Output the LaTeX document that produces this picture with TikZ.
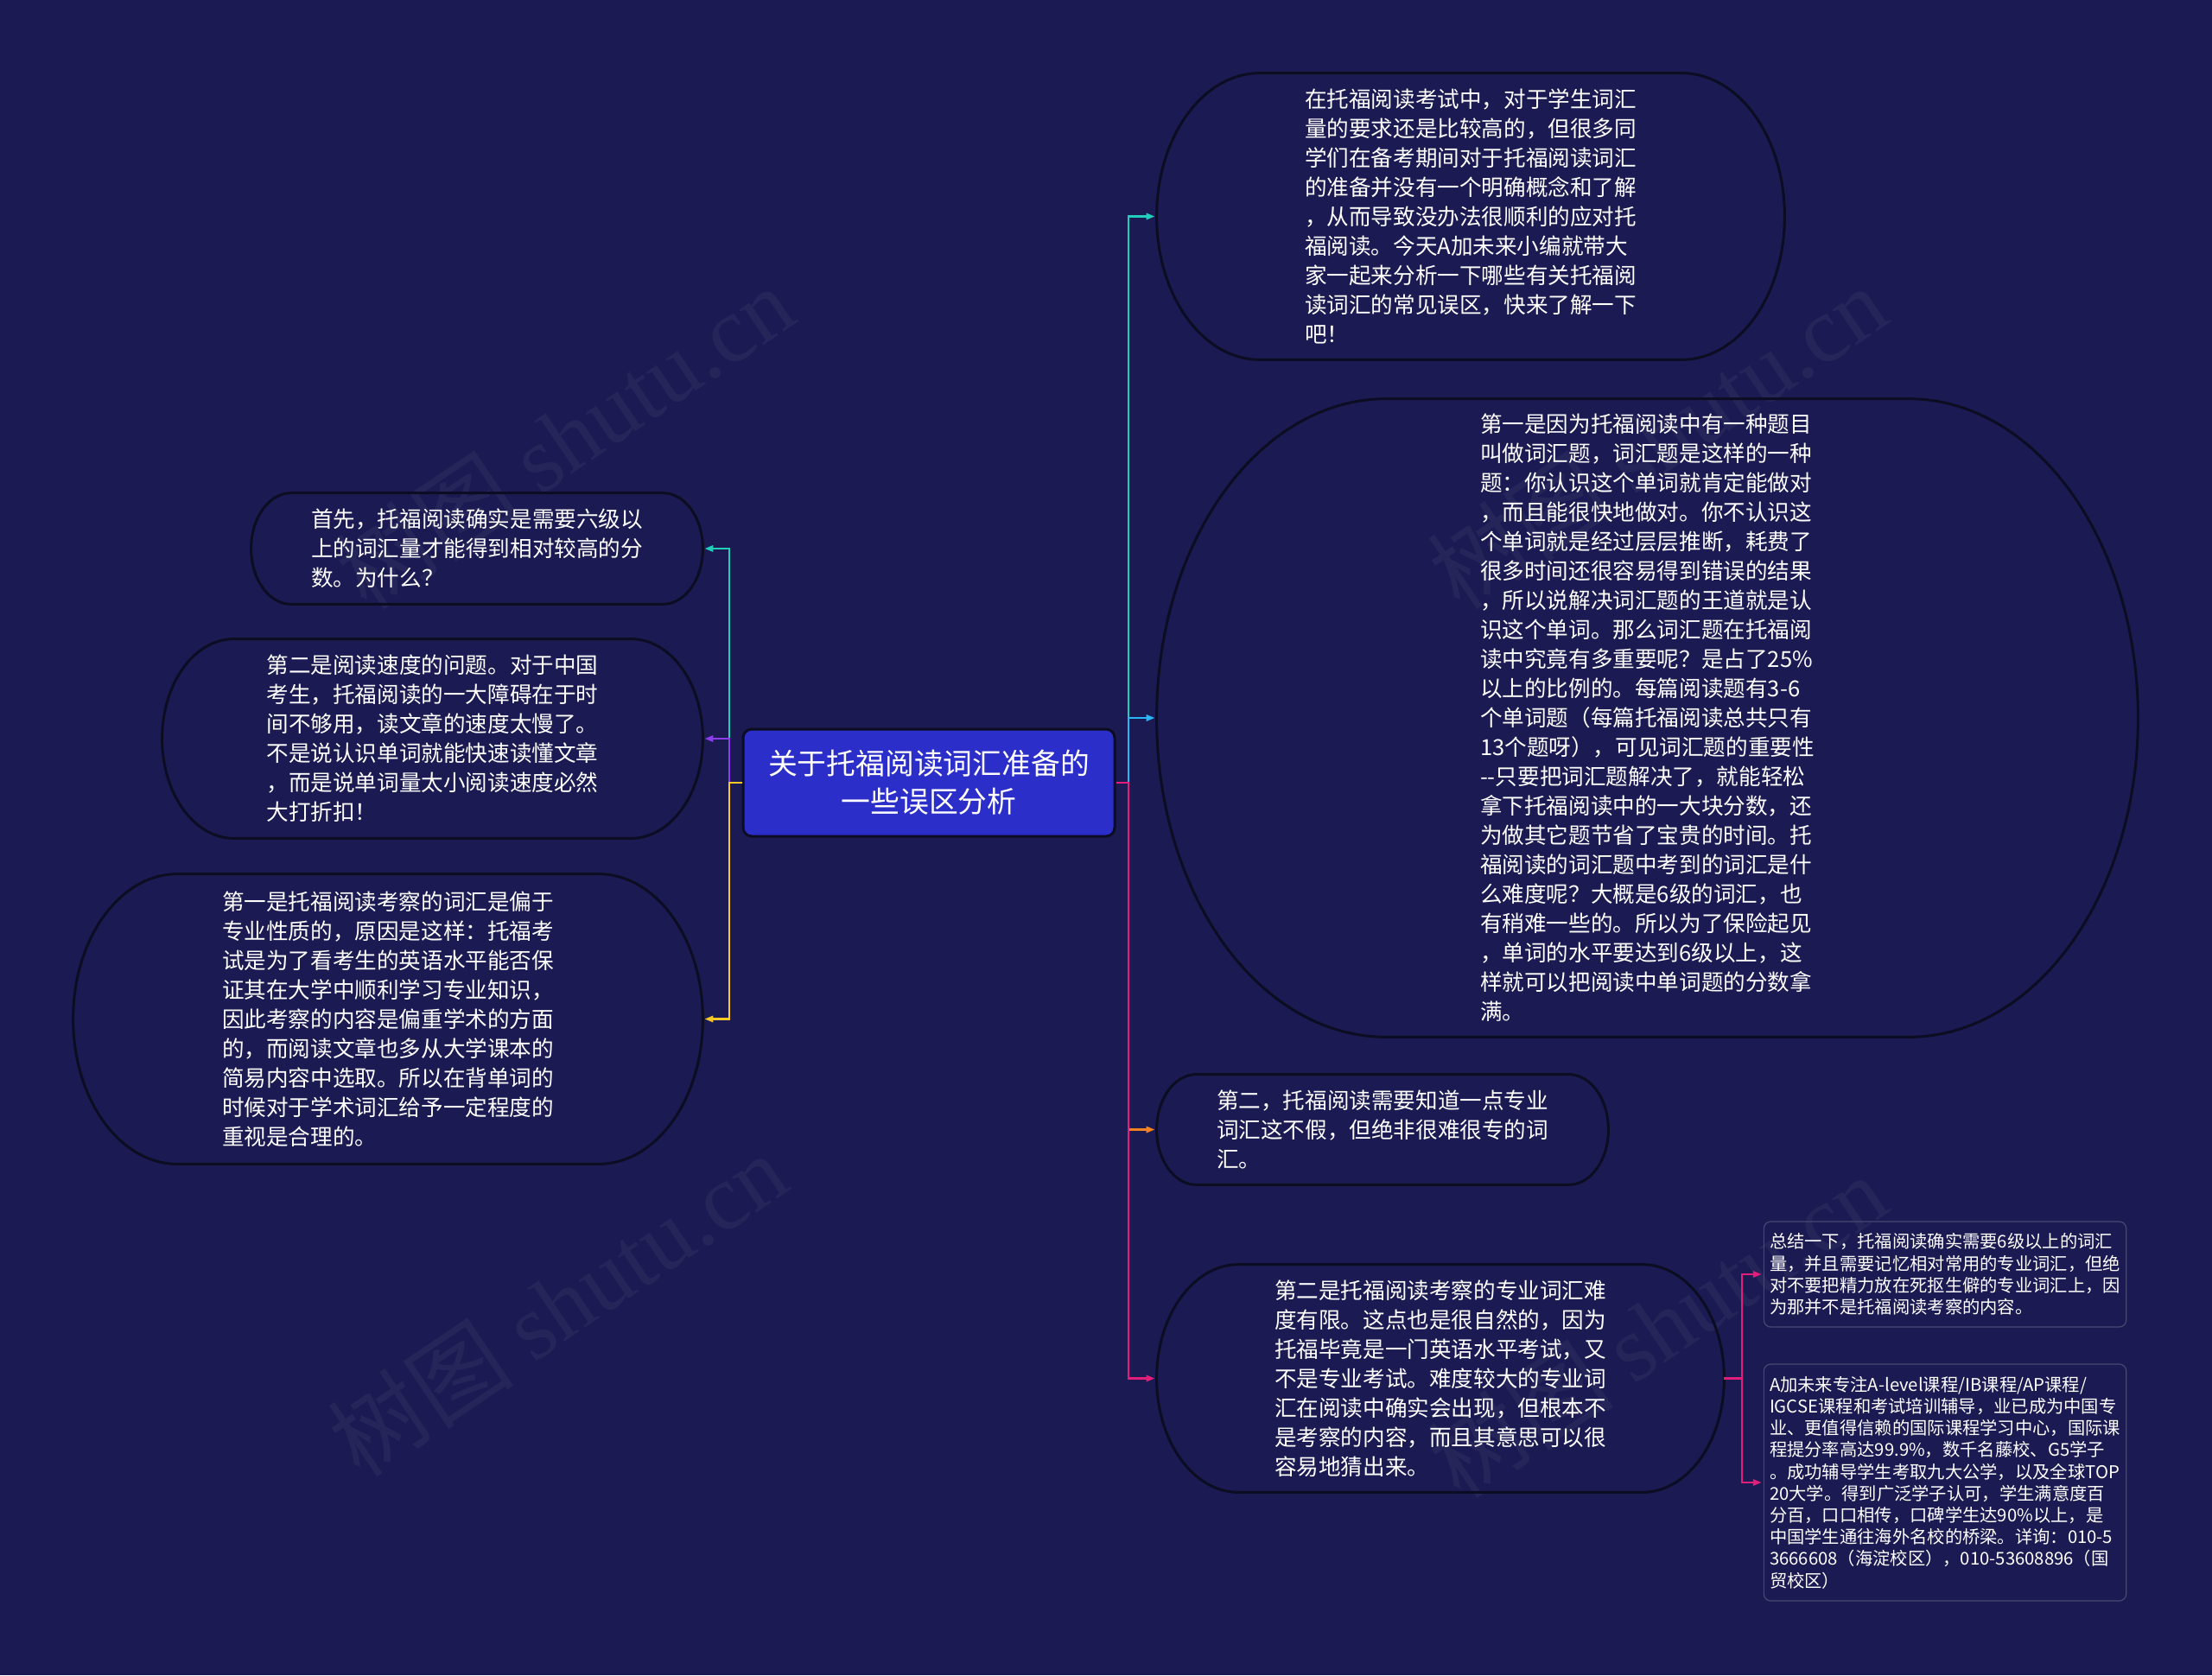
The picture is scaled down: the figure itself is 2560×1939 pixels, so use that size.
\documentclass[tikz,border=0pt]{standalone}
\usepackage{fontspec}
\newfontfamily\cjk{Noto Sans CJK SC}
\newfontfamily\wmserif{Liberation Serif}
\usetikzlibrary{arrows.meta,calc}

\definecolor{bgnavy}{RGB}{27,26,82}
\definecolor{rootblue}{RGB}{43,46,200}
\definecolor{rimdark}{RGB}{12,12,34}
\definecolor{boxrim}{RGB}{72,72,112}
\definecolor{cteal}{RGB}{32,206,186}
\definecolor{csky}{RGB}{41,182,246}
\definecolor{corange}{RGB}{245,130,32}
\definecolor{cmagenta}{RGB}{226,30,123}
\definecolor{cpurple}{RGB}{140,62,232}
\definecolor{cyellow}{RGB}{246,200,40}

\tikzset{
  bodytext/.style={text=white, font=\cjk\fontsize{12.8}{17}\selectfont, align=left},
  bubble/.style 2 args={bodytext, minimum width=#1, minimum height=#2},
  rootbox/.style={rectangle, rounded corners=5pt, fill=rootblue, draw=rimdark,
    line width=1.5pt, text=white, font=\cjk\fontsize{16.9}{22}\selectfont,
    align=center, minimum width=215pt, minimum height=62pt},
  infobox/.style 2 args={rectangle, rounded corners=4pt, draw=boxrim, line width=0.6pt,
    text=white, font=\cjk\fontsize{10.15}{12.6}\selectfont, align=left,
    minimum width=#1, minimum height=#2},
  rim/.style={draw=rimdark, line width=1.5pt},
  link/.style={draw=#1, line width=1.2pt, shorten >=1pt,
    -{Triangle[length=5pt,width=3.6pt]}},
  wmtext/.style={text=white, text opacity=0.05, rotate=34,
    font=\fontsize{54}{54}\selectfont}
}

% outline with half-elliptic ends round a named node
\newcommand\bubbleoutline[1]{%
  \draw[rim] let \p1=(#1.north west), \p2=(#1.south east),
      \n1={0.36*(\y1-\y2)}, \n2={0.5*(\y1-\y2)},
      \n3={0.2*(\y1-\y2)}, \n4={0.276*(\y1-\y2)} in
    ({\x1+\n1},\y1) -- ({\x2-\n1},\y1)
    .. controls ({\x2-\n1+\n3},\y1) and (\x2,{\y1-\n2+\n4}) .. (\x2,{\y1-\n2})
    .. controls (\x2,{\y2+\n2-\n4}) and ({\x2-\n1+\n3},\y2) .. ({\x2-\n1},\y2)
    -- ({\x1+\n1},\y2)
    .. controls ({\x1+\n1-\n3},\y2) and (\x1,{\y2+\n2-\n4}) .. (\x1,{\y2+\n2})
    .. controls (\x1,{\y1-\n2+\n4}) and ({\x1+\n1-\n3},\y1) .. ({\x1+\n1},\y1)
    -- cycle;
}

\begin{document}
\begin{tikzpicture}[x=0.5pt,y=-0.5pt]
  \useasboundingbox (0,0) rectangle (2560,1939);
  \fill[bgnavy] (0,0) rectangle (2560,1939);

  % watermark
  \node[wmtext] (wm1) at (653,506) {\cjk 树图 \wmserif shutu.cn};
  \node[wmtext] (wm2) at (1918,506) {\cjk 树图 \wmserif shutu.cn};
  \node[wmtext] (wm3) at (645,1510) {\cjk 树图 \wmserif shutu.cn};
  \node[wmtext] (wm4) at (1918,1535) {\cjk 树图 \wmserif shutu.cn};

  % root
  \node[rootbox] (root) at (1075,906) {关于托福阅读词汇准备的\\一些误区分析};

  % right side
  \node[bubble={363pt}{165.5pt}] (intro) at (1702,250.5) {在托福阅读考试中，对于学生词汇\\量的要求还是比较高的，但很多同\\学们在备考期间对于托福阅读词汇\\的准备并没有一个明确概念和了解\\，从而导致没办法很顺利的应对托\\福阅读。今天A加未来小编就带大\\家一起来分析一下哪些有关托福阅\\读词汇的常见误区，快来了解一下\\吧！};
  \node[bubble={567.5pt}{369pt}] (vocabq) at (1906.5,831) {第一是因为托福阅读中有一种题目\\叫做词汇题，词汇题是这样的一种\\题：你认识这个单词就肯定能做对\\，而且能很快地做对。你不认识这\\个单词就是经过层层推断，耗费了\\很多时间还很容易得到错误的结果\\，所以说解决词汇题的王道就是认\\识这个单词。那么词汇题在托福阅\\读中究竟有多重要呢？是占了25\%\\以上的比例的。每篇阅读题有3-6\\个单词题（每篇托福阅读总共只有\\13个题呀），可见词汇题的重要性\\-{}-只要把词汇题解决了，就能轻松\\拿下托福阅读中的一大块分数，还\\为做其它题节省了宝贵的时间。托\\福阅读的词汇题中考到的词汇是什\\么难度呢？大概是6级的词汇，也\\有稍难一些的。所以为了保险起见\\，单词的水平要达到6级以上，这\\样就可以把阅读中单词题的分数拿\\满。};
  \node[bubble={261pt}{63.5pt}] (somepro) at (1600,1307.5) {第二，托福阅读需要知道一点专业\\词汇这不假，但绝非很难很专的词\\汇。};
  \node[bubble={328pt}{131.5pt}] (limited) at (1667,1595.5) {第二是托福阅读考察的专业词汇难\\度有限。这点也是很自然的，因为\\托福毕竟是一门英语水平考试，又\\不是专业考试。难度较大的专业词\\汇在阅读中确实会出现，但根本不\\是考察的内容，而且其意思可以很\\容易地猜出来。};
  \node[infobox={209pt}{61pt}] (summary) at (2251,1475) {总结一下，托福阅读确实需要6级以上的词汇\\量，并且需要记忆相对常用的专业词汇，但绝\\对不要把精力放在死抠生僻的专业词汇上，因\\为那并不是托福阅读考察的内容。};
  \node[infobox={209pt}{137pt}] (advert) at (2251,1716) {A加未来专注A-level课程/IB课程/AP课程/\\IGCSE课程和考试培训辅导，业已成为中国专\\业、更值得信赖的国际课程学习中心，国际课\\程提分率高达99.9\%，数千名藤校、G5学子\\。成功辅导学生考取九大公学，以及全球TOP\\20大学。得到广泛学子认可，学生满意度百\\分百，口口相传，口碑学生达90\%以上，是\\中国学生通往海外名校的桥梁。详询：010-5\\3666608（海淀校区），010-53608896（国\\贸校区）};

  % left side
  \node[bubble={261pt}{64pt}] (sixlevel) at (552,635) {首先，托福阅读确实是需要六级以\\上的词汇量才能得到相对较高的分\\数。为什么？};
  \node[bubble={312.5pt}{115pt}] (speed) at (500.5,855) {第二是阅读速度的问题。对于中国\\考生，托福阅读的一大障碍在于时\\间不够用，读文章的速度太慢了。\\不是说认识单词就能快速读懂文章\\，而是说单词量太小阅读速度必然\\大打折扣！};
  \node[bubble={364pt}{167.5pt}] (academic) at (449,1179.5) {第一是托福阅读考察的词汇是偏于\\专业性质的，原因是这样：托福考\\试是为了看考生的英语水平能否保\\证其在大学中顺利学习专业知识，\\因此考察的内容是偏重学术的方面\\的，而阅读文章也多从大学课本的\\简易内容中选取。所以在背单词的\\时候对于学术词汇给予一定程度的\\重视是合理的。};

  % outlines
  \bubbleoutline{intro}
  \bubbleoutline{vocabq}
  \bubbleoutline{somepro}
  \bubbleoutline{limited}
  \bubbleoutline{sixlevel}
  \bubbleoutline{speed}
  \bubbleoutline{academic}

  % connectors
  \coordinate (rtrunk) at (1306,906);
  \coordinate (ltrunk) at (844,906);
  \coordinate (strunk) at (2016,1595.5);

  \draw[link=cteal] (root.east) -- (rtrunk) |- (intro.west);
  \draw[link=csky] (root.east) -- (rtrunk) |- (vocabq.west);
  \draw[link=corange] (root.east) -- (rtrunk) |- (somepro.west);
  \draw[link=cmagenta] (root.east) -- (rtrunk) |- (limited.west);

  \draw[link=cteal] (root.west) -- (ltrunk) |- (sixlevel.east);
  \draw[link=cpurple] (root.west) -- (ltrunk) |- (speed.east);
  \draw[link=cyellow] (root.west) -- (ltrunk) |- (academic.east);

  \draw[link=cmagenta] (limited.east) -- (strunk) |- (summary.west);
  \draw[link=cmagenta] (limited.east) -- (strunk) |- (advert.west);
\end{tikzpicture}
\end{document}
